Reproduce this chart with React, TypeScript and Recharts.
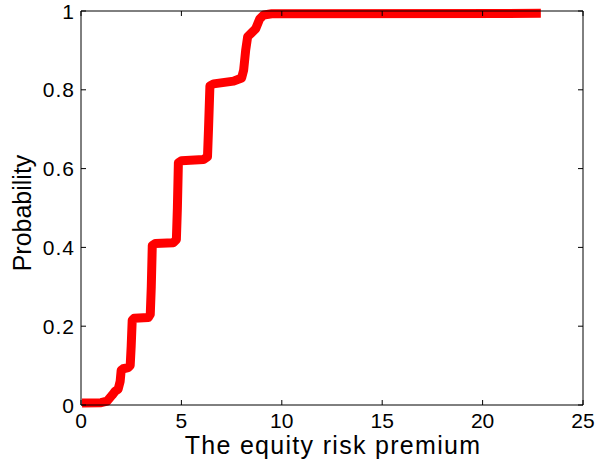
import { LineChart, Line, XAxis, YAxis } from 'recharts'

// x: equity risk premium, y: cumulative probability
const premium = [
  0.05, 1.0, 1.3, 1.55, 1.7, 1.85, 1.95, 2.0, 2.1, 2.35, 2.45, 2.5, 2.55, 2.65,
  3.35, 3.45, 3.5, 3.55, 3.7, 4.6, 4.75, 4.8, 4.85, 5.0, 6.1, 6.3, 6.35, 6.42,
  6.6, 7.6, 8.0, 8.1, 8.2, 8.3, 8.5, 8.7, 8.9, 9.1, 9.5, 22.9,
]
const probability = [
  0.005, 0.006, 0.01, 0.025, 0.035, 0.04, 0.06, 0.088, 0.092, 0.095, 0.1, 0.15,
  0.215, 0.22, 0.222, 0.23, 0.3, 0.405, 0.41, 0.412, 0.42, 0.5, 0.615, 0.62,
  0.623, 0.63, 0.7, 0.81, 0.815, 0.822, 0.83, 0.85, 0.9, 0.935, 0.945, 0.955,
  0.98, 0.99, 0.993, 0.994,
]
const xTicks = [0, 5, 10, 15, 20, 25]
const yTicks = [0, 0.2, 0.4, 0.6, 0.8, 1]

const data = premium.map((x, i) => ({ x, y: probability[i] }))

const font = 'Liberation Sans, Arial, Helvetica, sans-serif'

const BottomTick = (props: any) => {
  const { x, y, payload } = props
  return (
    <g>
      <line x1={x} y1={y} x2={x} y2={y - 5} stroke="#000" />
      <text x={x} y={y + 23.3} textAnchor="middle" fontSize={21} fontFamily={font} fill="#000">
        {payload.value}
      </text>
    </g>
  )
}

const TopTick = (props: any) => {
  const { x, y } = props
  return <line x1={x} y1={y} x2={x} y2={y + 5} stroke="#000" />
}

const LeftTick = (props: any) => {
  const { x, y, payload } = props
  return (
    <g>
      <line x1={x} y1={y} x2={x + 5} y2={y} stroke="#000" />
      <text
        x={x - 6}
        y={y + 7.5}
        textAnchor="end"
        fontSize={21}
        letterSpacing={1}
        fontFamily={font}
        fill="#000"
      >
        {payload.value}
      </text>
    </g>
  )
}

const RightTick = (props: any) => {
  const { x, y } = props
  return <line x1={x} y1={y} x2={x - 5} y2={y} stroke="#000" />
}

export default function App() {
  return (
    <div style={{ position: 'relative', width: 598, height: 461 }}>
      <style>{'html,body{margin:0;overflow:hidden}'}</style>
      <LineChart
        width={598}
        height={461}
        data={data}
        margin={{ top: 10, right: 14, bottom: 0, left: 0 }}
      >
        <XAxis
          xAxisId="b"
          dataKey="x"
          type="number"
          domain={[0, 25]}
          ticks={xTicks}
          interval={0}
          height={56}
          tickSize={0}
          tickMargin={0}
          tickLine={false}
          stroke="#000"
          tick={BottomTick}
        />
        <XAxis
          xAxisId="t"
          dataKey="x"
          orientation="top"
          type="number"
          domain={[0, 25]}
          ticks={xTicks}
          interval={0}
          height={1}
          tickSize={0}
          tickMargin={0}
          tickLine={false}
          stroke="#000"
          tick={TopTick}
        />
        <YAxis
          yAxisId="l"
          type="number"
          domain={[0, 1]}
          ticks={yTicks}
          interval={0}
          width={81}
          tickSize={0}
          tickMargin={0}
          tickLine={false}
          stroke="#000"
          tick={LeftTick}
        />
        <YAxis
          yAxisId="r"
          orientation="right"
          type="number"
          domain={[0, 1]}
          ticks={yTicks}
          interval={0}
          width={1}
          tickSize={0}
          tickMargin={0}
          tickLine={false}
          stroke="#000"
          tick={RightTick}
        />
        <Line
          xAxisId="t"
          yAxisId="r"
          type="linear"
          dataKey="y"
          stroke="none"
          dot={false}
          activeDot={false}
          isAnimationActive={false}
        />
        <Line
          xAxisId="b"
          yAxisId="l"
          type="linear"
          dataKey="y"
          stroke="#ff0000"
          strokeWidth={9}
          strokeLinejoin="round"
          dot={false}
          isAnimationActive={false}
        />
      </LineChart>
      <div
        style={{
          position: 'absolute',
          left: 81,
          width: 504,
          top: 429.5,
          textAlign: 'center',
          fontFamily: font,
          fontSize: 25,
          letterSpacing: 1.3,
          lineHeight: '30px',
          color: '#000',
          whiteSpace: 'nowrap',
        }}
      >
        The equity risk premium
      </div>
      <div
        style={{
          position: 'absolute',
          left: 22.4,
          top: 213,
          transform: 'translate(-50%, -50%) rotate(-90deg)',
          fontFamily: font,
          fontSize: 25,
          lineHeight: '30px',
          color: '#000',
          whiteSpace: 'nowrap',
        }}
      >
        Probability
      </div>
    </div>
  )
}
